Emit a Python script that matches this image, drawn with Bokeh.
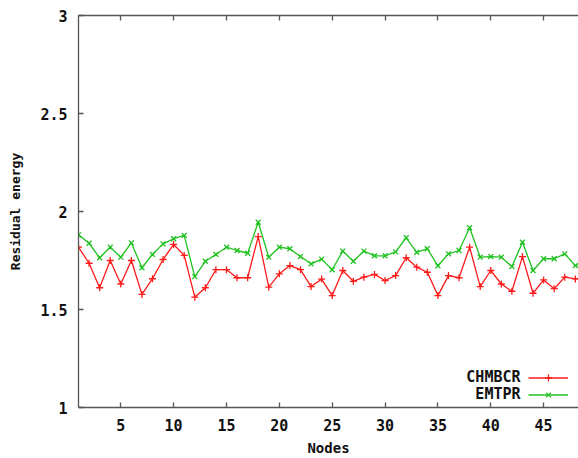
from bokeh.plotting import figure
from bokeh.models import (Range1d, LinearAxis, FixedTicker, Legend, LegendItem, Label)
from bokeh.core.properties import value
from bokeh.embed import file_html
from bokeh.resources import INLINE

nodes = list(range(1, 50))
chmbcr = [1.818, 1.736, 1.611, 1.750, 1.630, 1.750, 1.577, 1.657, 1.755, 1.832,
          1.776, 1.563, 1.611, 1.703, 1.703, 1.662, 1.662, 1.872, 1.614, 1.682,
          1.724, 1.703, 1.617, 1.655, 1.571, 1.699, 1.644, 1.665, 1.679, 1.648,
          1.673, 1.764, 1.716, 1.690, 1.571, 1.673, 1.662, 1.818, 1.617, 1.699,
          1.630, 1.593, 1.770, 1.583, 1.651, 1.606, 1.665, 1.656, 1.660]
emtpr = [1.881, 1.838, 1.764, 1.818, 1.767, 1.840, 1.713, 1.781, 1.835, 1.861,
         1.878, 1.668, 1.746, 1.781, 1.818, 1.801, 1.787, 1.945, 1.767, 1.818,
         1.810, 1.770, 1.733, 1.757, 1.703, 1.798, 1.746, 1.798, 1.774, 1.774,
         1.794, 1.866, 1.792, 1.810, 1.723, 1.784, 1.801, 1.917, 1.767, 1.770,
         1.767, 1.719, 1.843, 1.699, 1.759, 1.759, 1.784, 1.724, 1.740]
x_ticks = [5, 10, 15, 20, 25, 30, 35, 40, 45, 50]
y_ticks = [1, 1.5, 2, 2.5, 3]
series_names = ["CHMBCR", "EMTPR"]

RED = "#ff1a1a"
GREEN = "#1fc21f"
AX = "#555555"
FONT = "DejaVu Sans Mono"

p = figure(width=578, height=458, output_backend="svg",
           toolbar_location=None, x_range=Range1d(1, 48.3), y_range=Range1d(1, 3),
           min_border_left=78, min_border_right=0, min_border_top=15, min_border_bottom=51,
           x_axis_location=None, y_axis_location=None)
p.outline_line_color = None
p.grid.visible = False
p.background_fill_color = "white"
p.border_fill_color = "white"

def style_axis(ax):
    ax.axis_line_color = AX
    ax.axis_line_width = 1.3
    ax.major_tick_line_color = AX
    ax.major_tick_line_width = 1.3
    ax.major_tick_in = 5
    ax.major_tick_out = 0
    ax.minor_tick_line_color = None
    ax.major_label_text_font = FONT
    ax.major_label_text_font_style = "bold"
    ax.major_label_text_font_size = "15px"
    ax.major_label_text_color = "#111111"
    ax.axis_label_text_font = FONT
    ax.axis_label_text_font_style = "bold"
    ax.axis_label_text_color = "#111111"

xb = LinearAxis(ticker=FixedTicker(ticks=x_ticks), axis_label="Nodes")
style_axis(xb)
xb.major_label_standoff = 11
xb.axis_label_standoff = 6
xb.axis_label_text_font_size = "14px"
p.add_layout(xb, "below")

xt = LinearAxis(ticker=FixedTicker(ticks=x_ticks))
style_axis(xt)
xt.major_label_text_font_size = "0px"
xt.major_label_text_color = None
xt.major_label_standoff = 0
p.add_layout(xt, "above")

yl = LinearAxis(ticker=FixedTicker(ticks=y_ticks), axis_label="Residual energy")
style_axis(yl)
yl.major_label_standoff = 11
yl.axis_label_standoff = 14
yl.axis_label_text_font_size = "13px"
p.add_layout(yl, "left")

r1 = p.line(nodes, chmbcr, line_color=RED, line_width=1.3)
m1 = p.scatter(nodes, chmbcr, marker="cross", size=7, line_color=RED, line_width=1.3)
r2 = p.line(nodes, emtpr, line_color=GREEN, line_width=1.3)
m2 = p.scatter(nodes, emtpr, marker="x", size=7, line_color=GREEN, line_width=1.3)

leg = Legend(items=[LegendItem(label=value(" "), renderers=[r1, m1]),
                    LegendItem(label=value(" "), renderers=[r2, m2])],
             location=(450, 4), glyph_width=40, glyph_height=17, label_height=17,
             label_width=0, label_standoff=0, spacing=0, padding=0, margin=0,
             background_fill_alpha=0, border_line_color=None,
             label_text_font_size="10px")
p.add_layout(leg, "center")

for i, name in enumerate(series_names):
    lab = Label(x=442, y=31 - 17 * i, x_units="screen", y_units="screen", text=name,
                text_align="right", text_baseline="middle", text_font=FONT,
                text_font_style="bold", text_font_size="15px", text_color="#111111")
    p.add_layout(lab)

open("out.html", "w").write(file_html(p, INLINE))
